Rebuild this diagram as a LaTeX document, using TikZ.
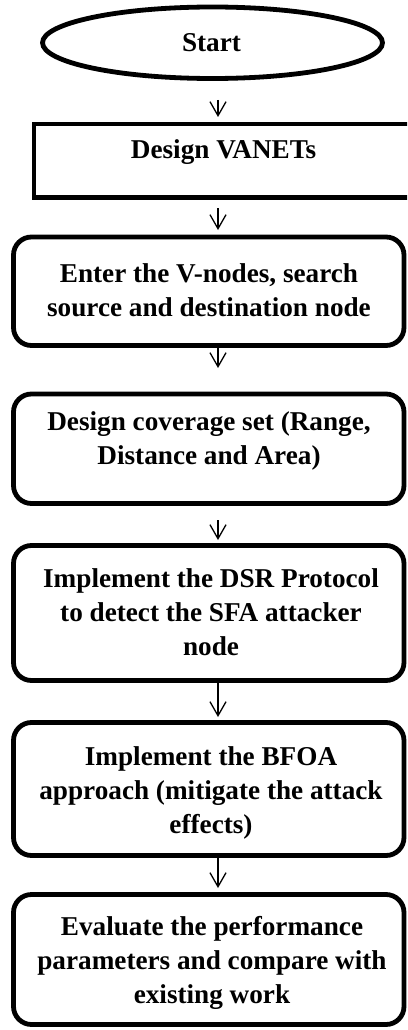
\documentclass[tikz,border=0pt]{standalone}
\usepackage{fontspec}
\setmainfont{Liberation Serif}
\usetikzlibrary{shapes.geometric,arrows.meta}

\tikzset{
  heavy/.style={draw=black, line width=4.8pt, outer sep=0pt, inner sep=0pt},
  stepbox/.style={heavy, rounded corners=18pt, rectangle},
  label text/.style={font=\fontsize{27.2}{34}\selectfont\bfseries, align=center, inner sep=0pt},
  flow/.style={draw=black, line width=1.3pt, -{Straight Barb[length=14pt,width=16pt]}}
}

\begin{document}
\begin{tikzpicture}[x=1pt, y=-1pt]
  \useasboundingbox (0,0) rectangle (407,1030);
  \clip (0,0) rectangle (407,1030);

  % vertical line carrying all connectors
  \coordinate (ax) at (218,0);

  % terminal
  \node[heavy, ellipse, minimum width=340pt, minimum height=71.5pt] (start) at (212.5,42.75) {};
  \node[label text, anchor=base] (startT) at (211.5,52) {Start};

  % plain process box, open past the right margin
  \node[heavy, rectangle, minimum width=396pt, minimum height=73.5pt] (vanet) at (232,160.75) {};
  \node[label text, anchor=base] (vanetT) at (223.5,158) {Design VANETs};

  % rounded process steps
  \node[stepbox, minimum width=390.5pt, minimum height=108.5pt] (enter) at (208.75,291.25) {};
  \node[label text] (enterT) at (209,290.5) {Enter the V-nodes, search\\source and destination node};

  \node[stepbox, minimum width=390.5pt, minimum height=109.5pt] (cover) at (208.75,448.75) {};
  \node[label text] (coverT) at (209,441.3) {Design coverage set (Range,\\Distance and Area)};

  \node[stepbox, minimum width=390.5pt, minimum height=135pt] (dsr) at (208.75,613) {};
  \node[label text] (dsrT) at (211,612) {Implement the DSR Protocol\\to detect the SFA attacker\\node};

  \node[stepbox, minimum width=390.5pt, minimum height=133pt] (bfoa) at (208.75,789) {};
  \node[label text] (bfoaT) at (211,793) {Implement the BFOA\\approach (mitigate the attack\\effects)};

  \node[stepbox, minimum width=390.5pt, minimum height=130pt] (eval) at (208.75,959.5) {};
  \node[label text] (evalT) at (212,963) {Evaluate the performance\\parameters and compare with\\existing work};

  % connectors
  \draw[flow, shorten <=21.5pt, shorten >=7pt]  (start.south -| ax) -- (vanet.north -| ax);
  \draw[flow, shorten <=10.5pt, shorten >=7pt]  (vanet.south -| ax) -- (enter.north -| ax);
  \draw[flow, shorten >=26pt]                   (enter.south -| ax) -- (cover.north -| ax);
  \draw[flow, shorten <=16.5pt, shorten >=5.5pt] (cover.south -| ax) -- (dsr.north -| ax);
  \draw[flow, shorten >=5.5pt]                  (dsr.south -| ax) -- (bfoa.north -| ax);
  \draw[flow, shorten >=6.5pt]                  (bfoa.south -| ax) -- (eval.north -| ax);
\end{tikzpicture}
\end{document}
